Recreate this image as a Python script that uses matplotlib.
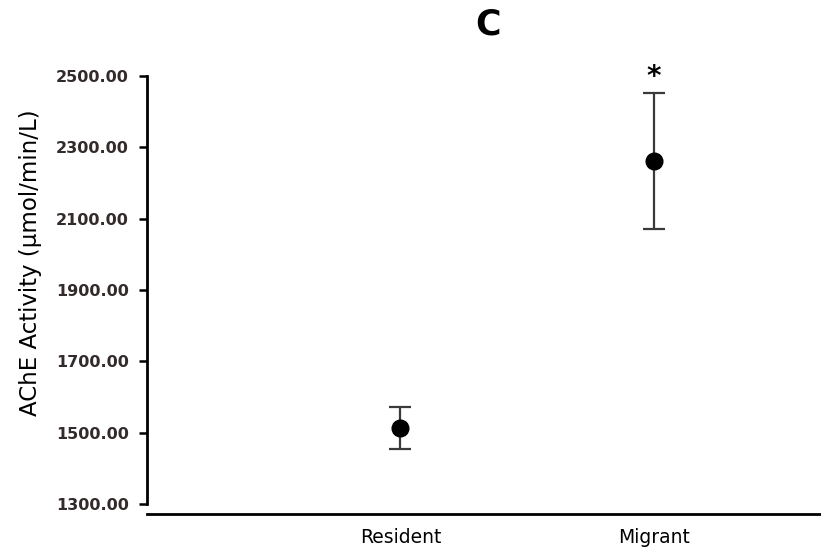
import matplotlib
matplotlib.use("Agg")
import matplotlib.pyplot as plt

# data
groups = ["Resident", "Migrant"]
means = [1513, 2262]
err_low = [59, 191]
err_high = [59, 191]
sig_marks = ["", "*"]
yticks = [1300, 1500, 1700, 1900, 2100, 2300, 2500]

fig = plt.figure(figsize=(8.21, 5.5), dpi=100)
ax = fig.add_axes([0.179, 0.0836, 0.821, 0.778])

xpos = [1, 2]
ax.errorbar(xpos, means, yerr=[err_low, err_high], fmt="o", color="black",
            ecolor="#3a3a3a", elinewidth=1.6, capsize=8, capthick=1.6,
            markersize=12, zorder=3)

for x, m, e, s in zip(xpos, means, err_high, sig_marks):
    if s:
        ax.text(x, m + e + 4, s, ha="center", va="bottom", fontsize=20,
                fontweight="bold", family="DejaVu Sans")

for side in ["top", "right"]:
    ax.spines[side].set_visible(False)
ax.spines["left"].set_linewidth(2)
ax.spines["bottom"].set_linewidth(2)
ax.spines["bottom"].set_position(("outward", 7))
ax.tick_params(axis="y", length=6, width=1.8, pad=7)
ax.tick_params(axis="x", length=0, pad=10)

ax.set_xlim(0, 2.66)
ax.set_ylim(1300, 2500)
ax.set_yticks(yticks)
ax.set_yticklabels([f"{v:.2f}" for v in yticks], family="DejaVu Sans",
                   fontweight="bold", fontsize=11.5, color="#332b2b")
ax.set_xticks(xpos)
ax.set_xticklabels(groups, family="DejaVu Sans", fontsize=13.5)

ax.set_ylabel("AChE Activity (\u03bcmol/min/L)", family="DejaVu Sans",
              fontsize=16.5)
ax.yaxis.set_label_coords(-0.155, 0.565)
fig.text(0.594, 0.955, "C", ha="center", va="center", fontsize=25,
         fontweight="bold", family="DejaVu Sans")

fig.savefig("out.png", dpi=100)
